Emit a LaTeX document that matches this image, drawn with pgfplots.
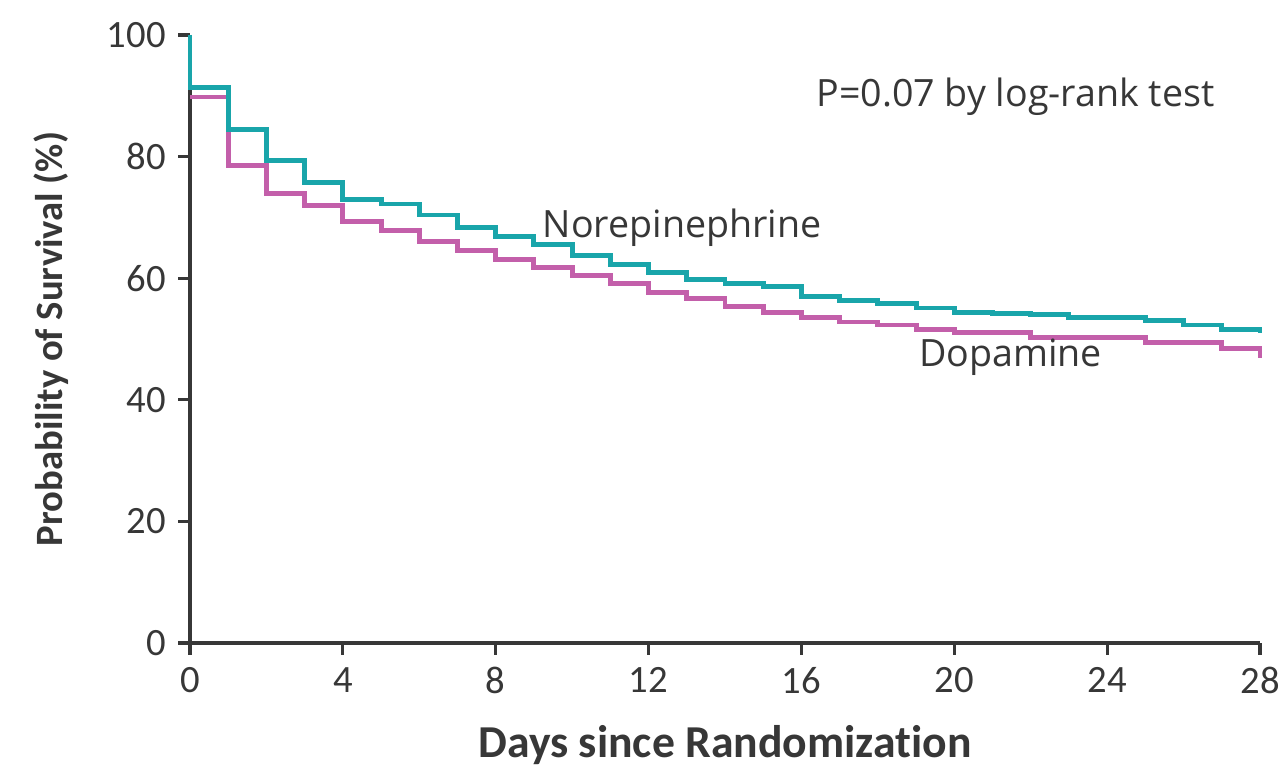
\documentclass[border=0pt]{standalone}
\usepackage{pgfplots}
\pgfplotsset{compat=1.18}
\usepackage{fontspec}
\setmainfont{Carlito}[Ligatures={NoCommon}]
\newfontfamily\notefont{Open Sans}
\definecolor{norep}{RGB}{25,165,170}
\definecolor{dopa}{RGB}{195,95,170}
\definecolor{axgray}{RGB}{55,55,55}
\begin{document}
\begin{tikzpicture}
\begin{axis}[
  scale only axis,
  width=10.7cm, height=6.08cm,
  xmin=0, xmax=28, ymin=0, ymax=100,
  axis lines=left,
  axis line style={-, axgray, line width=0.9pt},
  xtick={0,4,...,28}, ytick={0,20,...,100},
  tick align=outside, major tick length=0.12cm,
  tick style={axgray, line width=0.9pt},
  ticklabel style={font=\fontsize{11}{13}\selectfont, text=axgray},
  /pgf/number format/assume math mode=true,
  xlabel={\bfseries Days since Randomization},
  ylabel={\bfseries Probability of Survival (\%)},
  xlabel style={font=\fontsize{13}{15}\selectfont, text=axgray, yshift=-2pt},
  ylabel style={font=\fontsize{11}{13}\selectfont, text=axgray, yshift=4pt},
  clip=false,
]
% Dopamine
\addplot[const plot, dopa, line width=1.4pt] coordinates {
 (0,89.8)(1,78.5)(2,74.0)(3,72.0)(4,69.4)(5,67.9)(6,66.1)(7,64.5)
 (8,63.0)(9,61.8)(10,60.5)(11,59.2)(12,57.7)(13,56.7)(14,55.3)(15,54.4)
 (16,53.6)(17,52.8)(18,52.3)(19,51.6)(20,51.0)(22,50.3)(25,49.4)(27,48.5)
 (28,48.5)(28,46.8)};
% Norepinephrine
\addplot[const plot, norep, line width=1.4pt] coordinates {
 (0,100)(0,91.3)(1,84.4)(2,79.3)(3,75.7)(4,73.0)(5,72.2)(6,70.4)(7,68.3)
 (8,66.8)(9,65.5)(10,63.7)(11,62.2)(12,61.0)(13,59.8)(14,59.2)(15,58.6)
 (16,57.0)(17,56.4)(18,55.8)(19,55.1)(20,54.4)(21,54.2)(22,54.0)(23,53.5)
 (25,53.0)(26,52.3)(27,51.6)(28,51.6)(28,51.0)};
\node[font=\notefont\fontsize{10.7}{12}\selectfont, text=axgray] at (axis cs:21.6,89.8) {P=0.07 by log-rank test};
\node[font=\notefont\fontsize{10.7}{12}\selectfont, text=axgray] at (axis cs:12.88,68.3) {Norepinephrine};
\node[font=\notefont\fontsize{10.7}{12}\selectfont, text=axgray] at (axis cs:21.47,47.0) {Dopamine};
\coordinate (bl) at (rel axis cs:-0.1776,-0.2089);
\coordinate (tr) at (rel axis cs:1.0243,1.0576);
\end{axis}
\pgfresetboundingbox
\path (bl) rectangle (tr);
\end{tikzpicture}
\end{document}
